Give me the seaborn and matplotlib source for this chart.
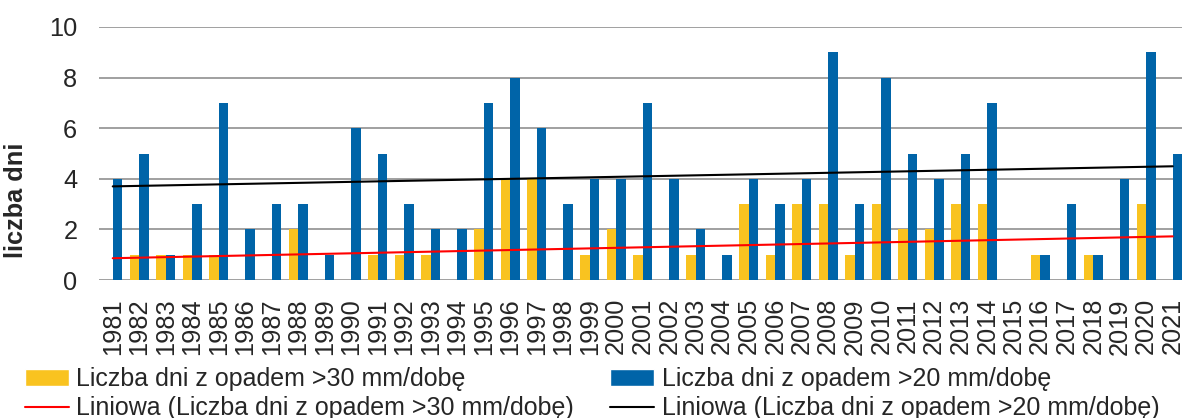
import numpy as np
import pandas as pd
import matplotlib
matplotlib.use("Agg")
import matplotlib.pyplot as plt
from matplotlib.patches import Patch
from matplotlib.lines import Line2D
import seaborn as sns

# ── Data ─────────────────────────────────────────────────────────────────────
years = list(range(1981, 2022))
days_30 = [0, 1, 1, 1, 1, 0, 0, 2, 0, 0,
           1, 1, 1, 0, 2, 4, 4, 0, 1, 2,
           1, 0, 1, 0, 3, 1, 3, 3, 1, 3,
           2, 2, 3, 3, 0, 1, 0, 1, 0, 3,
           0]
days_20 = [4, 5, 1, 3, 7, 2, 3, 3, 1, 6,
           5, 3, 2, 2, 7, 8, 6, 3, 4, 4,
           7, 4, 2, 1, 4, 3, 4, 9, 3, 8,
           5, 4, 5, 7, 0, 1, 3, 1, 4, 9,
           5]
lab_30 = "Liczba dni z opadem >30 mm/dobę"
lab_20 = "Liczba dni z opadem >20 mm/dobę"
trend_30 = "Liniowa (Liczba dni z opadem >30 mm/dobę)"
trend_20 = "Liniowa (Liczba dni z opadem >20 mm/dobę)"

YELLOW = '#F9C320'; BLUE = '#0064A8'; GRID = '#A0A0A0'

df = pd.DataFrame({
    'rok': [str(y) for y in years] * 2,
    'dni': days_30 + days_20,
    'seria': [lab_30] * len(years) + [lab_20] * len(years),
})

# ── Style ────────────────────────────────────────────────────────────────────
sns.set_style('white')
plt.rcParams['font.family'] = ['Liberation Sans', 'DejaVu Sans']
FS = 18.3

fig = plt.figure(figsize=(11.82, 4.18), dpi=100)
ax = fig.add_axes([99.5 / 1182, 138 / 418, 1086.5 / 1182, 253 / 418])

sns.barplot(data=df, x='rok', y='dni', hue='seria', hue_order=[lab_30, lab_20],
            palette=[YELLOW, BLUE], saturation=1, width=0.73, legend=False,
            linewidth=0, edgecolor='none', ax=ax, zorder=2)

# linear trendlines (least squares, like Excel)
idx = np.arange(len(years))
sns.regplot(x=idx, y=np.array(days_30), scatter=False, ci=None, truncate=True,
            color='red', line_kws={'linewidth': 1.5, 'zorder': 3}, ax=ax)
sns.regplot(x=idx, y=np.array(days_20), scatter=False, ci=None, truncate=True,
            color='black', line_kws={'linewidth': 1.5, 'zorder': 3}, ax=ax)

ax.set_xlim(-0.5, len(years) - 0.5)
ax.set_ylim(0, 10)
ax.set_yticks(range(0, 11, 2))
ax.yaxis.grid(True, color=GRID, linewidth=1.4)
ax.set_axisbelow(True)
for s in ax.spines.values():
    s.set_visible(False)
ax.set_xlabel('')
ax.set_ylabel('')
ax.tick_params(axis='y', length=0, pad=16, labelsize=FS)
ax.tick_params(axis='x', length=0, pad=13, labelsize=FS, labelrotation=90)

fig.text(16 / 1182, 1 - 200 / 418, 'liczba dni', rotation=90, ha='center',
         va='center', fontsize=FS, fontweight='bold')

handles = [Patch(facecolor=YELLOW), Line2D([], [], color='red', lw=1.5),
           Patch(facecolor=BLUE), Line2D([], [], color='black', lw=1.5)]
labels = [lab_30, trend_30, lab_20, trend_20]
fig.legend(handles, labels, ncol=2, loc='upper left',
           bbox_to_anchor=(25 / 1182, 1 - 367 / 418), frameon=False,
           fontsize=18, handlelength=1.75, handletextpad=0.3,
           columnspacing=1.45, labelspacing=0.22, borderpad=0, borderaxespad=0)

fig.savefig('out.png', dpi=100)
